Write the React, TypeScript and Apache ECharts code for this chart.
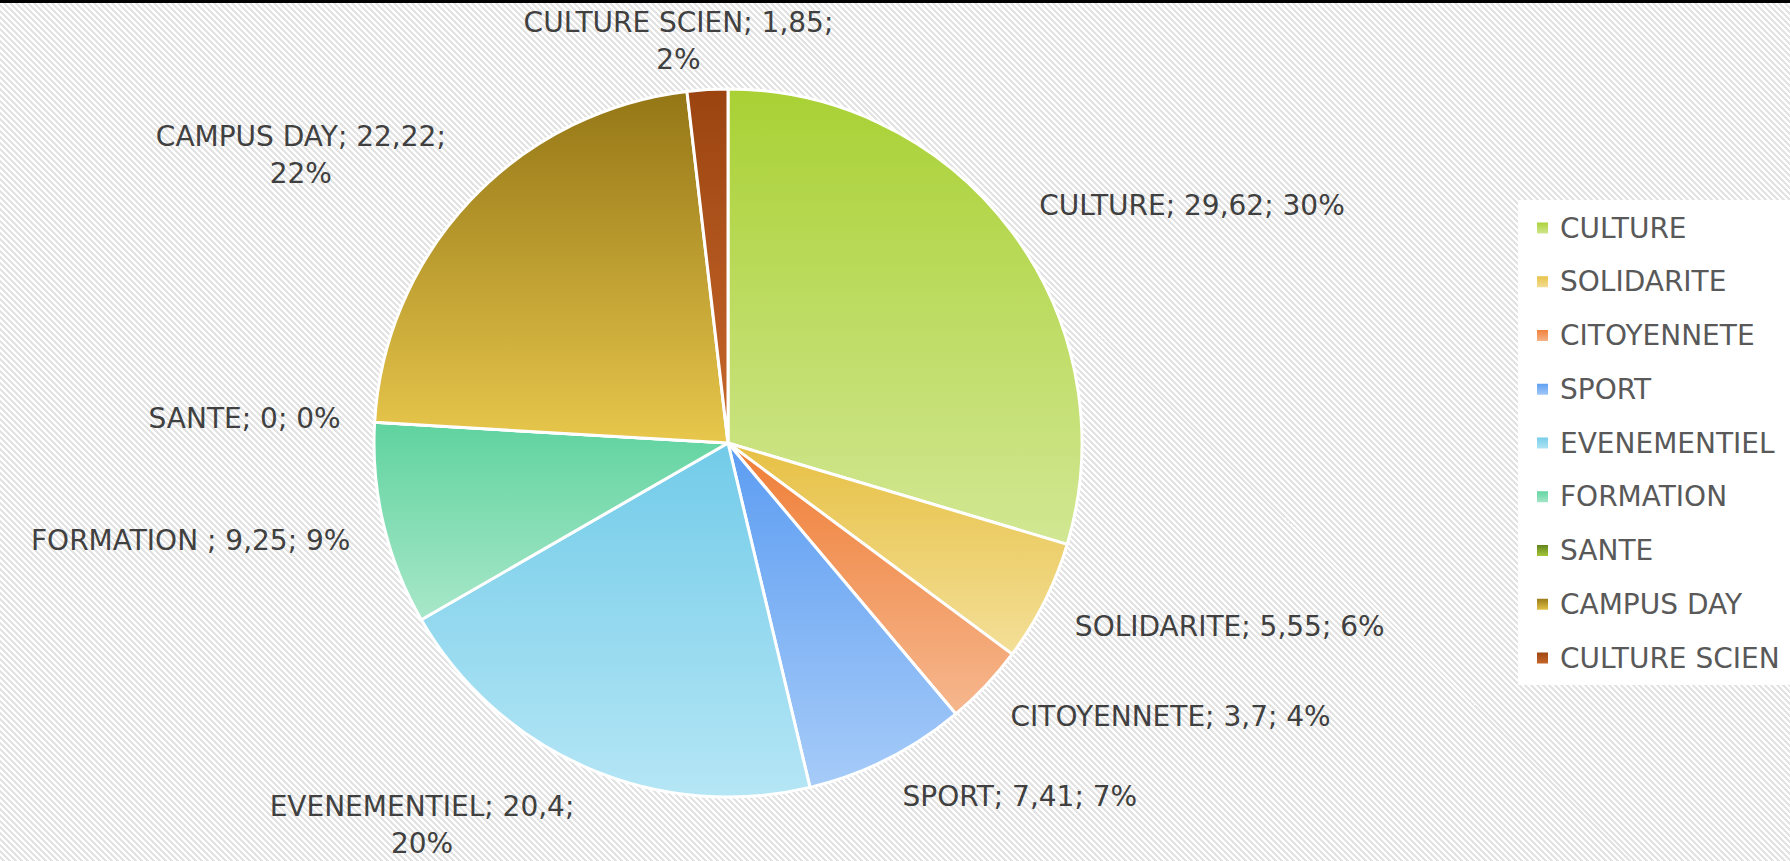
import React, { useEffect, useRef } from "react";
import * as echarts from "echarts";

// ---- data ----
const categories = [
  "CULTURE",
  "SOLIDARITE",
  "CITOYENNETE",
  "SPORT",
  "EVENEMENTIEL",
  "FORMATION ",
  "SANTE",
  "CAMPUS DAY",
  "CULTURE SCIEN",
];
const values = [29.62, 5.55, 3.7, 7.41, 20.4, 9.25, 0, 22.22, 1.85];
const topColors = ["#a9d134", "#e7c043", "#ef7d35", "#5b9cf2", "#72cbe9", "#5fd39f", "#5d7e1b", "#947616", "#9b4410"];
const bottomColors = ["#d2e793", "#f3df98", "#f6b78e", "#a6cbf8", "#b5e6f5", "#a8e7c9", "#aacd3a", "#e8c74c", "#c8682c"];

// ---- layout / style ----
const W = 1790;
const H = 861;
const CX = 728;
const CY = 443;
const R = 354;
const GAP_X = 34;
const GAP_Y = 12;
const FONT = "'DejaVu Sans', sans-serif";
const FS = 28;
const LABEL_COLOR = "#404040";
const LEGEND_COLOR = "#595959";
const WRAP_WIDTH = 355;

const total = values.reduce((a, b) => a + b, 0);
const midAngles: number[] = [];
{
  let acc = 0;
  for (const v of values) {
    midAngles.push(((acc + v / 2) / total) * Math.PI * 2);
    acc += v;
  }
}

let measureCtx: CanvasRenderingContext2D | null = null;
function textWidth(s: string): number {
  if (!measureCtx) {
    measureCtx = document.createElement("canvas").getContext("2d");
  }
  if (!measureCtx) return s.length * FS * 0.6;
  measureCtx.font = `${FS}px 'DejaVu Sans'`;
  return measureCtx.measureText(s).width;
}

const fmtNum = (v: number) => String(v).replace(".", ",");

export default function App() {
  const ref = useRef<HTMLDivElement>(null);

  useEffect(() => {
    document.body.style.margin = "0";
    if (!ref.current) return;
    const chart = echarts.init(ref.current, undefined, { renderer: "svg" });

    const f = (t: number) => Math.sign(t) * Math.min(1, 3 * Math.abs(t));

    chart.setOption({
      animation: false,
      legend: {
        orient: "vertical",
        left: 1518,
        top: 200,
        backgroundColor: "#ffffff",
        padding: [14, 40, 13, 17],
        itemWidth: 13,
        itemHeight: 13,
        itemGap: 25.75,
        icon: "rect",
        selectedMode: false,
        textStyle: {
          fontFamily: FONT,
          fontSize: FS,
          color: LEGEND_COLOR,
          lineHeight: 28,
          padding: [0, 0, 0, 6],
        },
        data: categories,
      },
      series: [
        {
          type: "pie",
          center: [CX, CY],
          radius: R,
          startAngle: 90,
          clockwise: true,
          avoidLabelOverlap: false,
          silent: true,
          itemStyle: { borderColor: "#ffffff", borderWidth: 3 },
          labelLine: { show: false },
          label: {
            show: true,
            position: "outside",
            fontFamily: FONT,
            fontSize: FS,
            color: LABEL_COLOR,
            lineHeight: 37,
            formatter: (p: any) => {
              const pct = Math.round(p.percent) + "%";
              const head = `${p.name}; ${fmtNum(p.value)};`;
              const full = `${head} ${pct}`;
              if (textWidth(full) > WRAP_WIDTH) {
                return `{c|${head}}\n{c|${pct}}`;
              }
              return `{c|${full}}`;
            },
            rich: {
              c: {
                align: "center",
                fontFamily: FONT,
                fontSize: FS,
                color: LABEL_COLOR,
                lineHeight: 37,
              },
            },
          },
          labelLayout: (params: any) => {
            const a = midAngles[params.dataIndex];
            const dx = Math.sin(a);
            const dy = -Math.cos(a);
            const gy = GAP_Y + (dy > 0 ? 12 * dy * dy : 0);
            const px = CX + (R + GAP_X) * dx;
            const py = CY + (R + gy) * dy;
            const w = params.labelRect.width;
            const h = params.labelRect.height;
            return {
              x: px + (w / 2) * f(dx),
              y: py + (h / 2) * f(dy),
              align: "center",
              verticalAlign: "middle",
            };
          },
          data: categories.map((name, i) => ({
            name,
            value: values[i],
            itemStyle: {
              color: {
                type: "linear",
                x: 0,
                y: 0,
                x2: 0,
                y2: 1,
                colorStops: [
                  { offset: 0, color: topColors[i] },
                  { offset: 1, color: bottomColors[i] },
                ],
              },
            },
          })),
        },
      ],
    });

    return () => chart.dispose();
  }, []);

  return (
    <div
      style={{
        position: "relative",
        width: W,
        height: H,
        overflow: "hidden",
        background:
          "repeating-linear-gradient(45deg, #ffffff 0px, #ffffff 2.12px, #e3e3e3 2.12px, #e3e3e3 4.24px)",
      }}
    >
      <div ref={ref} style={{ position: "absolute", left: 0, top: 0, width: W, height: H }} />
      <div style={{ position: "absolute", left: 0, top: 0, width: W, height: 3, background: "#000" }} />
    </div>
  );
}
